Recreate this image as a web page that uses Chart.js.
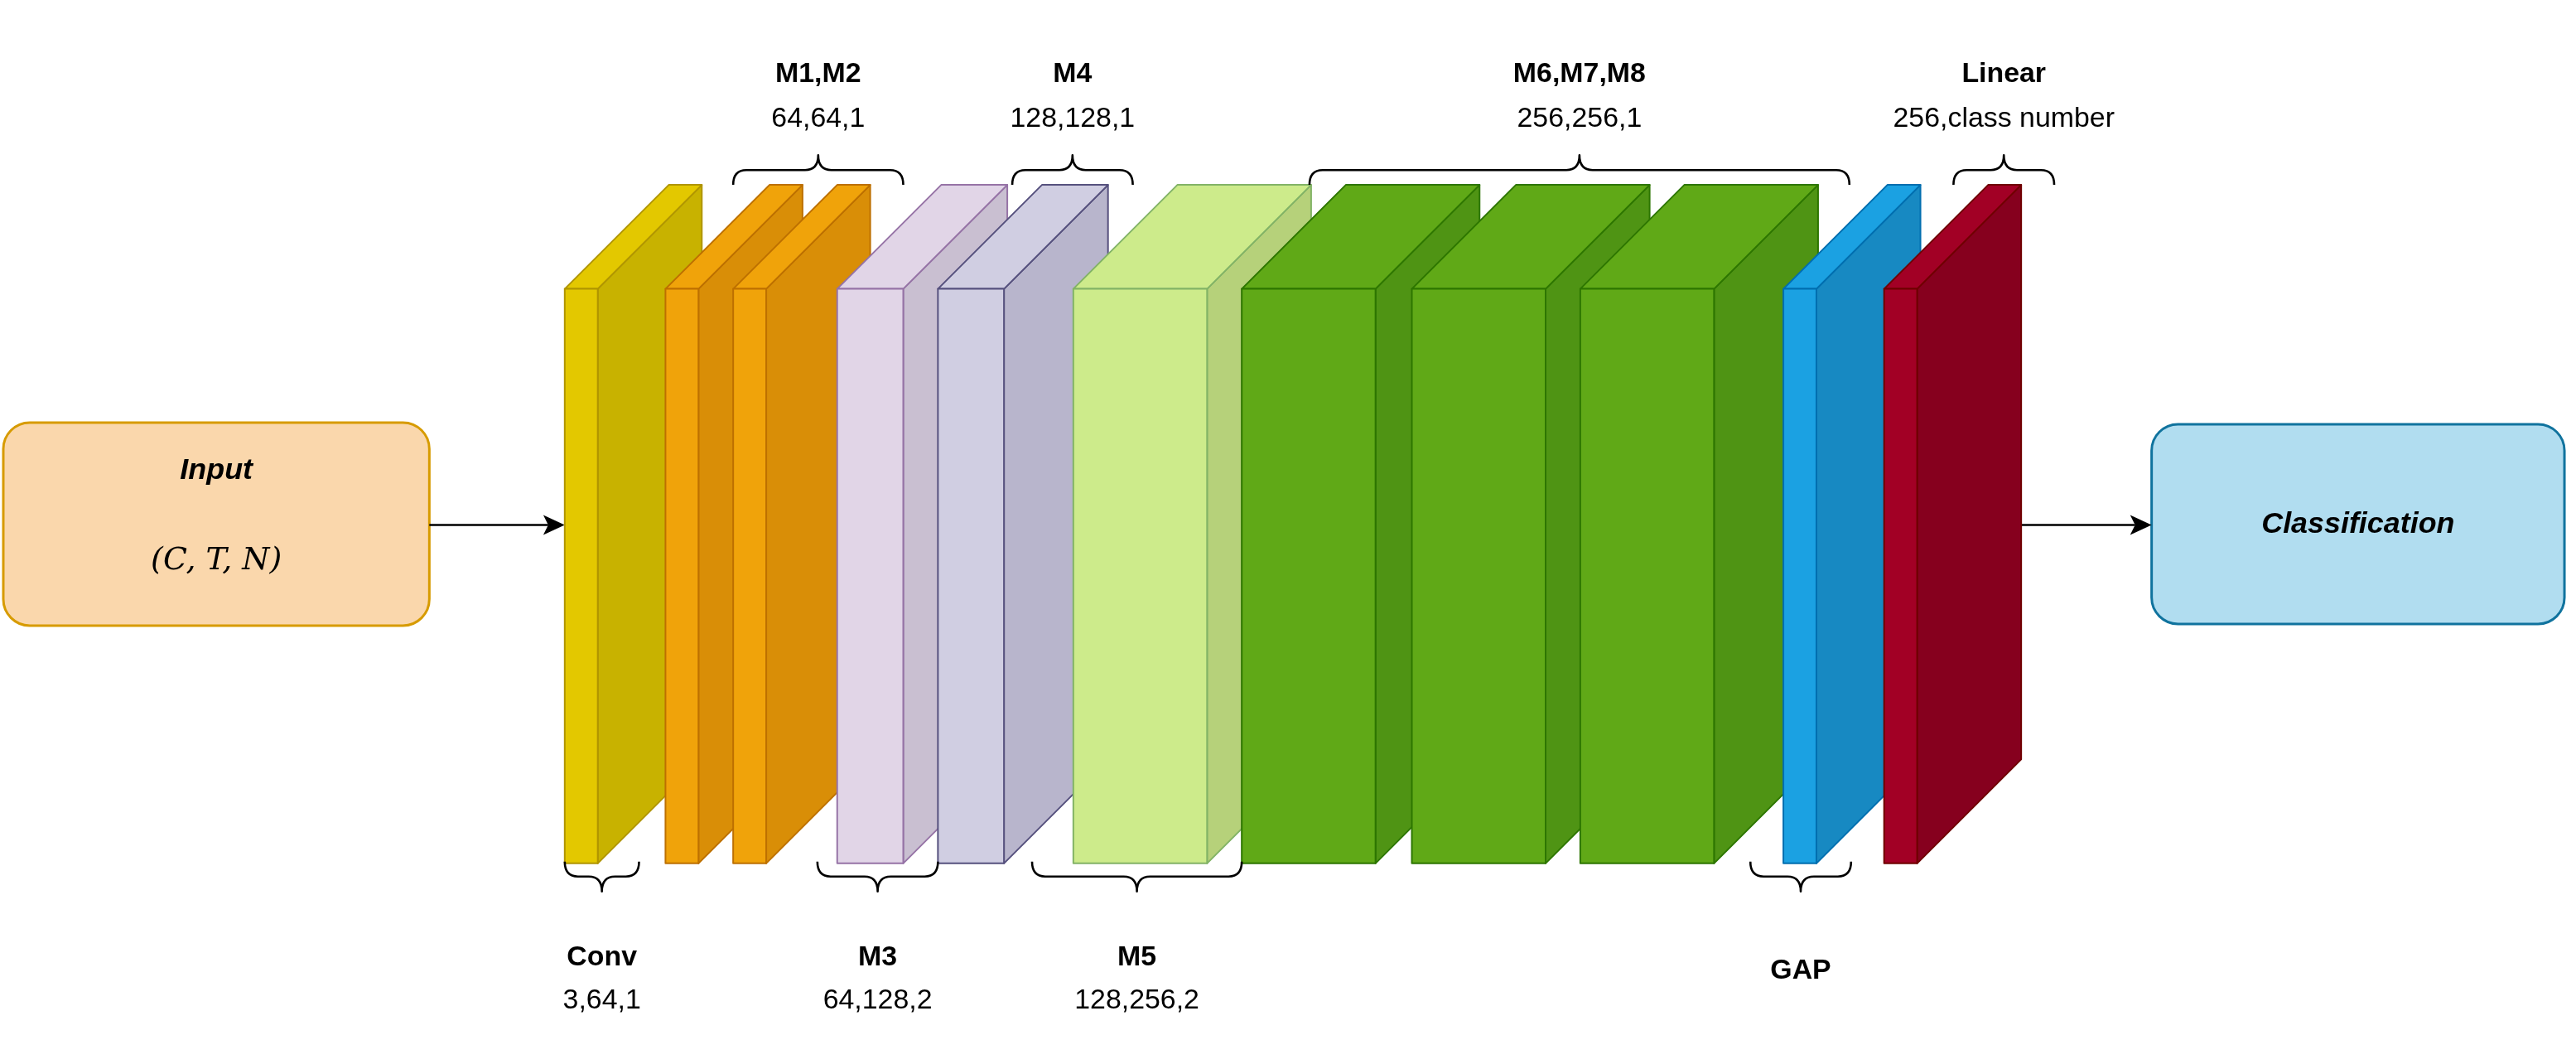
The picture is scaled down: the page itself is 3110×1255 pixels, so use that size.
<!DOCTYPE html>
<html>
<head>
<meta charset="utf-8">
<script src="https://cdn.jsdelivr.net/npm/chart.js@4.4.1/dist/chart.umd.min.js"></script>
<style>
  body { margin: 0; background: #fff; }
  canvas { display: block; }
</style>
</head>
<body>
<canvas id="net" width="3110" height="1255"></canvas>
<script>
// layers of the network (picture units, 1560 x 630 frame)
const layerNames = ["Conv", "M1", "M2", "M3", "M4", "M5", "M6", "M7", "M8", "GAP", "Linear"];
const layerLeft = [342, 403, 444, 507, 568, 650, 752, 855, 957, 1080, 1141];
const layerWidth = [20, 20, 20, 40, 40, 81, 81, 81, 81, 20, 20];
const layerFront = ["#e3c800", "#f0a30a", "#f0a30a", "#e1d5e7", "#d0cee2", "#cdeb8b", "#60a917", "#60a917", "#60a917", "#1ba1e2", "#a20025"];
const layerSide = ["#c8b200", "#d98e07", "#d98e07", "#c9bfd1", "#b8b5cc", "#b6d17a", "#4f9414", "#4f9414", "#4f9414", "#1789c2", "#86001e"];
const layerEdge = ["#b09500", "#bd7000", "#bd7000", "#9673a6", "#56517e", "#82b366", "#2d7600", "#2d7600", "#2d7600", "#006eaf", "#6f0000"];

// top braces: label, sub label, from, to
const topTitles = ["M1,M2", "M4", "M6,M7,M8", "Linear"];
const topSubs = ["64,64,1", "128,128,1", "256,256,1", "256,class number"];
const topFrom = [444, 613, 793, 1183];
const topTo = [547, 686, 1120, 1244];

// bottom braces
const botTitles = ["Conv", "M3", "M5", "GAP"];
const botSubs = ["3,64,1", "64,128,2", "128,256,2", ""];
const botFrom = [342, 495, 625, 1060];
const botTo = [387, 568, 752, 1121];

const diagramPlugin = {
  id: "diagram",
  afterDraw(chart) {
    const ctx = chart.ctx;
    const X = (v) => chart.scales.x.getPixelForValue(v);
    const Y = (v) => chart.scales.y.getPixelForValue(v);
    const s = X(1) - X(0);
    const top = 175, bottom = 523, depth = 63;
    ctx.save();
    ctx.lineJoin = "round";

    // boxes
    function box(x0, y0, x1, y1, fill, stroke) {
      ctx.beginPath();
      ctx.roundRect(X(x0), Y(y0), X(x1) - X(x0), Y(y1) - Y(y0), 16 * s);
      ctx.fillStyle = fill; ctx.fill();
      ctx.lineWidth = 1.5 * s; ctx.strokeStyle = stroke; ctx.stroke();
    }
    box(2, 256, 260, 379, "#fad7ac", "#d79b00");
    box(1303, 257, 1553, 378, "#b1ddf0", "#10739e");
    ctx.fillStyle = "#000";
    ctx.textAlign = "center"; ctx.textBaseline = "middle";
    ctx.font = "italic bold " + (18 * s) + "px 'Liberation Sans', Arial";
    ctx.fillText("Input", X(131), Y(285));
    ctx.fillText("Classification", X(1428), Y(318));
    ctx.font = "italic " + (19 * s) + "px 'DejaVu Serif', serif";
    ctx.fillText("(C, T, N)", X(131), Y(340));

    // arrows
    function arrow(x0, x1, y) {
      ctx.beginPath(); ctx.moveTo(X(x0), Y(y)); ctx.lineTo(X(x1 - 10), Y(y));
      ctx.lineWidth = 1.3 * s; ctx.strokeStyle = "#000"; ctx.stroke();
      ctx.beginPath(); ctx.moveTo(X(x1), Y(y)); ctx.lineTo(X(x1 - 13), Y(y - 6));
      ctx.lineTo(X(x1 - 10), Y(y)); ctx.lineTo(X(x1 - 13), Y(y + 6)); ctx.closePath();
      ctx.fillStyle = "#000"; ctx.fill();
    }
    arrow(260, 342, 318);
    arrow(1221, 1303, 318);

    // slabs
    layerNames.forEach((n, i) => {
      const l = layerLeft[i], r = l + layerWidth[i];
      ctx.lineWidth = 1 * s; ctx.strokeStyle = layerEdge[i];
      // side
      ctx.beginPath();
      ctx.moveTo(X(r), Y(top)); ctx.lineTo(X(r + depth), Y(top - depth));
      ctx.lineTo(X(r + depth), Y(bottom - depth)); ctx.lineTo(X(r), Y(bottom)); ctx.closePath();
      ctx.fillStyle = layerSide[i]; ctx.fill(); ctx.stroke();
      // top
      ctx.beginPath();
      ctx.moveTo(X(l), Y(top)); ctx.lineTo(X(l + depth), Y(top - depth));
      ctx.lineTo(X(r + depth), Y(top - depth)); ctx.lineTo(X(r), Y(top)); ctx.closePath();
      ctx.fillStyle = layerFront[i]; ctx.fill(); ctx.stroke();
      // front
      ctx.beginPath();
      ctx.rect(X(l), Y(top), X(r) - X(l), Y(bottom) - Y(top));
      ctx.fillStyle = layerFront[i]; ctx.fill(); ctx.stroke();
    });

    // braces
    function brace(x0, x1, yBase, dir) {
      const h = 18 * dir, m = (x0 + x1) / 2, r = 8;
      ctx.beginPath();
      ctx.moveTo(X(x0), Y(yBase + h));
      ctx.quadraticCurveTo(X(x0), Y(yBase + h / 2), X(x0 + r), Y(yBase + h / 2));
      ctx.lineTo(X(m - r), Y(yBase + h / 2));
      ctx.quadraticCurveTo(X(m), Y(yBase + h / 2), X(m), Y(yBase));
      ctx.quadraticCurveTo(X(m), Y(yBase + h / 2), X(m + r), Y(yBase + h / 2));
      ctx.lineTo(X(x1 - r), Y(yBase + h / 2));
      ctx.quadraticCurveTo(X(x1), Y(yBase + h / 2), X(x1), Y(yBase + h));
      ctx.lineWidth = 1.3 * s; ctx.strokeStyle = "#000"; ctx.stroke();
    }
    function labels(t, sub, cx, y1, y2) {
      ctx.fillStyle = "#000";
      ctx.font = "bold " + (17 * s) + "px 'Liberation Sans', Arial";
      ctx.fillText(t, X(cx), Y(y1));
      ctx.font = (17 * s) + "px 'Liberation Sans', Arial";
      if (sub) ctx.fillText(sub, X(cx), Y(y2));
    }
    topTitles.forEach((t, i) => {
      brace(topFrom[i], topTo[i], 94, 1);
      labels(t, topSubs[i], (topFrom[i] + topTo[i]) / 2, 45, 72);
    });
    botTitles.forEach((t, i) => {
      brace(botFrom[i], botTo[i], 540, -1);
      labels(t, botSubs[i], (botFrom[i] + botTo[i]) / 2, botSubs[i] ? 580 : 588, 606);
    });
    ctx.restore();
  }
};

new Chart(document.getElementById("net").getContext("2d"), {
  type: "scatter",
  data: { datasets: [{ data: [] }] },
  options: {
    responsive: false,
    animation: false,
    devicePixelRatio: 1,
    layout: { padding: 0 },
    plugins: { legend: { display: false }, tooltip: { enabled: false } },
    scales: {
      x: { type: "linear", min: 0, max: 1560, display: false },
      y: { type: "linear", min: 0, max: 630, reverse: true, display: false }
    }
  },
  plugins: [diagramPlugin]
});
</script>
</body>
</html>
